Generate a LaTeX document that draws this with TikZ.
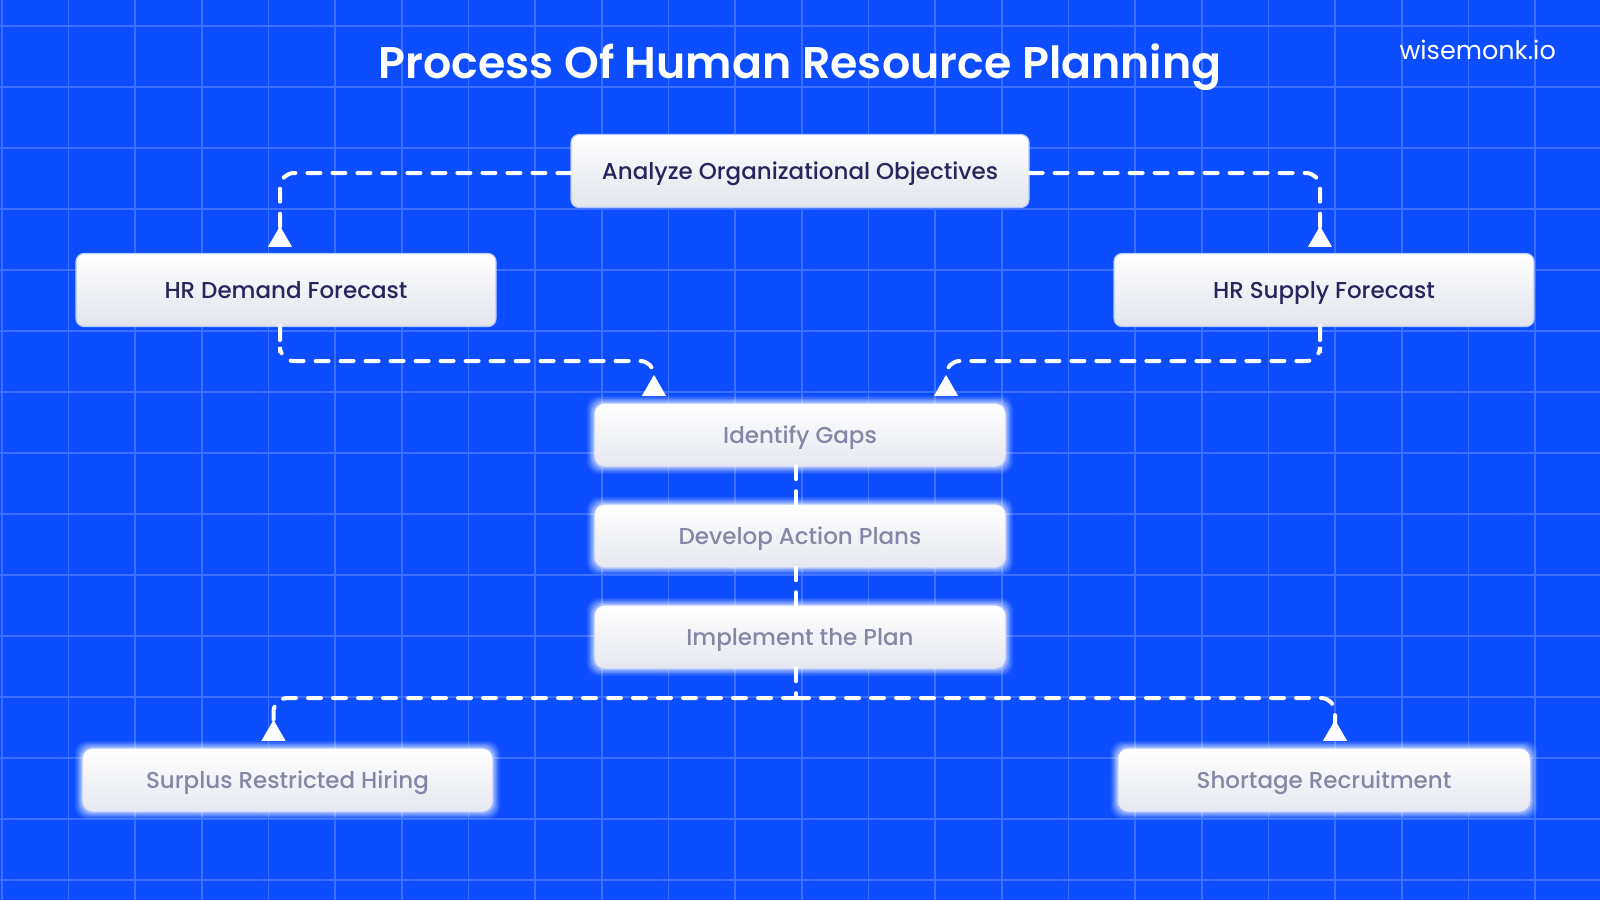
\documentclass[tikz,border=0pt]{standalone}
\usepackage{fontspec}
\usetikzlibrary{arrows.meta,calc}
\setmainfont{Poppins}
\IfFontExistsTF{Poppins Medium}{\newfontfamily\boxfont{Poppins Medium}}{\newfontfamily\boxfont{Poppins}[FakeBold=1]}
\IfFontExistsTF{Poppins SemiBold}{\newfontfamily\titlefont{Poppins SemiBold}}{\newfontfamily\titlefont{Poppins}[FakeBold=2]}
\definecolor{bgblue}{HTML}{0C4DFF}
\definecolor{gridc}{HTML}{3A6FFF}
\definecolor{navy}{HTML}{27265C}
\definecolor{boxbot}{HTML}{E2E4ED}
\definecolor{boxedge}{HTML}{B3C9FF}
\definecolor{blurtext}{HTML}{8587A6}
\pgfdeclarelayer{gridlayer}
\pgfdeclarelayer{glowlayer}
\pgfsetlayers{gridlayer,glowlayer,main}
\tikzset{
  gridline/.style={draw=gridc, line width=1.6pt},
  box/.style={rounded corners=8pt, minimum height=73pt, inner sep=0pt,
    draw=boxedge, line width=1.2pt, top color=white, bottom color=boxbot,
    text=navy, font=\boxfont\fontsize{23}{28}\selectfont,
    text height=20.5pt, text depth=4.5pt},
  blurbox/.style={rounded corners=9pt, minimum height=62pt, inner sep=0pt,
    top color=white, bottom color=boxbot!85!white,
    text=blurtext, font=\boxfont\fontsize{23}{28}\selectfont,
    text height=20.5pt, text depth=4.5pt},
  conn/.style={draw=white, line width=4pt, dash pattern=on 13pt off 12pt,
    line cap=round, rounded corners=14pt},
  tipend/.style={-{Triangle[reversed,width=23pt,length=21pt]}},
  titlestyle/.style={text=white, font=\titlefont\fontsize{44.3}{52}\selectfont, inner sep=0pt},
  brand/.style={text=white, font=\fontsize{25.5}{30}\selectfont, inner sep=0pt},
}
\begin{document}
\begin{tikzpicture}[x=1pt,y=-1pt]
\useasboundingbox (0,0) rectangle (1600,900);
\begin{pgfonlayer}{gridlayer}
  \fill[bgblue] (0,0) rectangle (1600,900);
  \foreach \i in {0,...,23} \draw[gridline] ({1.7+66.667*\i},0) -- ++(0,900);
  \foreach \j in {0,...,14} \draw[gridline] (0,{26+61*\j}) -- ++(1600,0);
\end{pgfonlayer}

% title and brand
\node[titlestyle, anchor=base] (title) at (800,78) {Process Of Human Resource Planning};
\node[brand, anchor=base east] (brandname) at (1556,59) {wisemonk.io};

% sharp boxes
\node[box, minimum width=458pt] (ana) at (800,171) {Analyze Organizational Objectives};
\node[box, minimum width=420pt] (dem) at (286,290) {HR Demand Forecast};
\node[box, minimum width=420pt] (sup) at (1324,290) {HR Supply Forecast};

% blurred boxes
\node[blurbox, minimum width=410pt] (gap) at (800,435) {Identify Gaps};
\node[blurbox, minimum width=410pt] (dev) at (800,536) {Develop Action Plans};
\node[blurbox, minimum width=410pt] (imp) at (800,637) {Implement the Plan};
\node[blurbox, minimum width=409pt] (sur) at (287.5,780) {Surplus Restricted Hiring};
\node[blurbox, minimum width=411pt] (sho) at (1324,780) {Shortage Recruitment};

\begin{pgfonlayer}{glowlayer}
  \foreach \n in {gap,dev,imp,sur,sho}{
    \foreach \r/\o in {8/0.08,6.5/0.12,5/0.16,3.5/0.22,2/0.3,0.8/0.4}{
      \fill[white, opacity=\o, rounded corners=12pt]
        ($(\n.north west)+(-\r,-\r)$) rectangle ($(\n.south east)+(\r,\r)$);
    }
  }
\end{pgfonlayer}

% connectors
\draw[conn, tipend, shorten >=6pt] ([yshift=-2pt]ana.west) -| ([xshift=-6pt]dem.north);
\draw[conn, tipend, shorten >=6pt] ([yshift=-2pt]ana.east) -| ([xshift=-4pt]sup.north);

\coordinate (dj) at (280,361);
\coordinate (sj) at (1320,361);
\draw[conn, tipend, shorten >=8pt] ([xshift=-6pt]dem.south) |- (dj) -| ([xshift=-146pt]gap.north);
\draw[conn, tipend, shorten >=8pt] ([xshift=-4pt]sup.south) |- (sj) -| ([xshift=146pt]gap.north);

\draw[conn] ([xshift=-4pt]gap.south) -- ([xshift=-4pt]dev.north);
\draw[conn] ([xshift=-4pt]dev.south) -- ([xshift=-4pt]imp.north);

\coordinate (split) at (796,698);
\draw[conn] ([xshift=-4pt]imp.south) -- (split);
\draw[conn, tipend, shorten >=8pt] (split) -| ([xshift=-14pt]sur.north);
\draw[conn, tipend, shorten >=8pt] (split) -| ([xshift=11pt]sho.north);
\end{tikzpicture}
\end{document}
